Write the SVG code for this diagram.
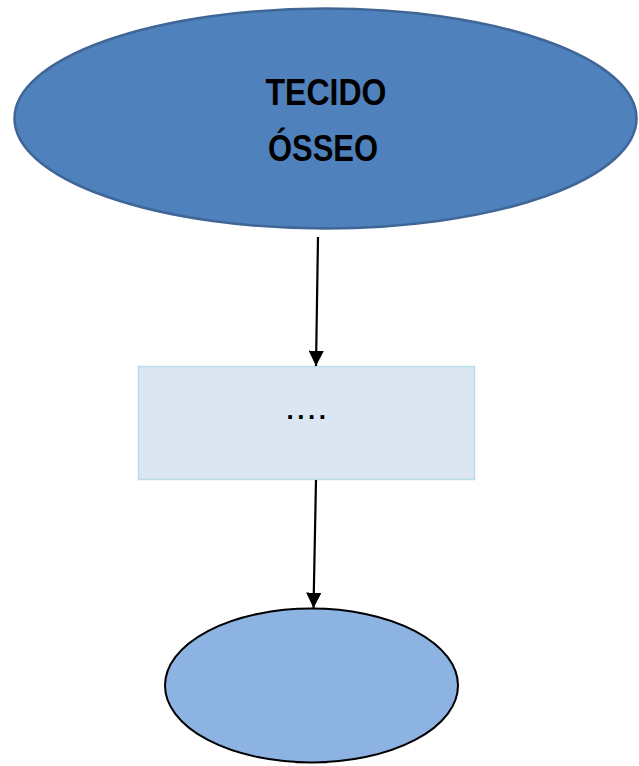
<svg xmlns="http://www.w3.org/2000/svg" width="639" height="766" viewBox="0 0 639 766">
<style>
.lbl{font-family:"Liberation Sans",Arial,sans-serif;font-weight:bold;font-size:36px;fill:#000;text-anchor:middle}
.edge{stroke:#000;stroke-width:2.2;fill:none}
</style>
<defs>
<marker id="arr" viewBox="0 0 10 10" refX="10" refY="5" markerWidth="7" markerHeight="7" markerUnits="strokeWidth" orient="auto">
<path d="M0,0 L10,5 L0,10 Z" fill="#000"/>
</marker>
</defs>
<rect width="639" height="766" fill="#fff"/>
<g id="node-tecido">
<ellipse cx="325.5" cy="118.5" rx="311" ry="110" fill="#4F81BD" stroke="#3F6696" stroke-width="2.5"/>
<text class="lbl" x="326" y="105" textLength="121" lengthAdjust="spacingAndGlyphs">TECIDO</text>
<text class="lbl" x="323" y="161" textLength="110" lengthAdjust="spacingAndGlyphs">ÓSSEO</text>
</g>
<g id="node-box">
<rect x="138.5" y="366.5" width="336" height="113" fill="#DCE6F2" stroke="#B7DDE8" stroke-width="1.5"/>
<text x="308" y="419" font-family="Liberation Sans,Arial,sans-serif" font-weight="bold" font-size="26" letter-spacing="3.5" text-anchor="middle" fill="#000">....</text>
</g>
<g id="node-bottom">
<ellipse cx="311.5" cy="685.5" rx="146.5" ry="77" fill="#8DB3E2" stroke="#000" stroke-width="2"/>
</g>
<g id="connectors">
<line class="edge" x1="318" y1="237" x2="316" y2="366" marker-end="url(#arr)"/>
<line class="edge" x1="316" y1="480" x2="313.5" y2="608" marker-end="url(#arr)"/>
</g>
</svg>
